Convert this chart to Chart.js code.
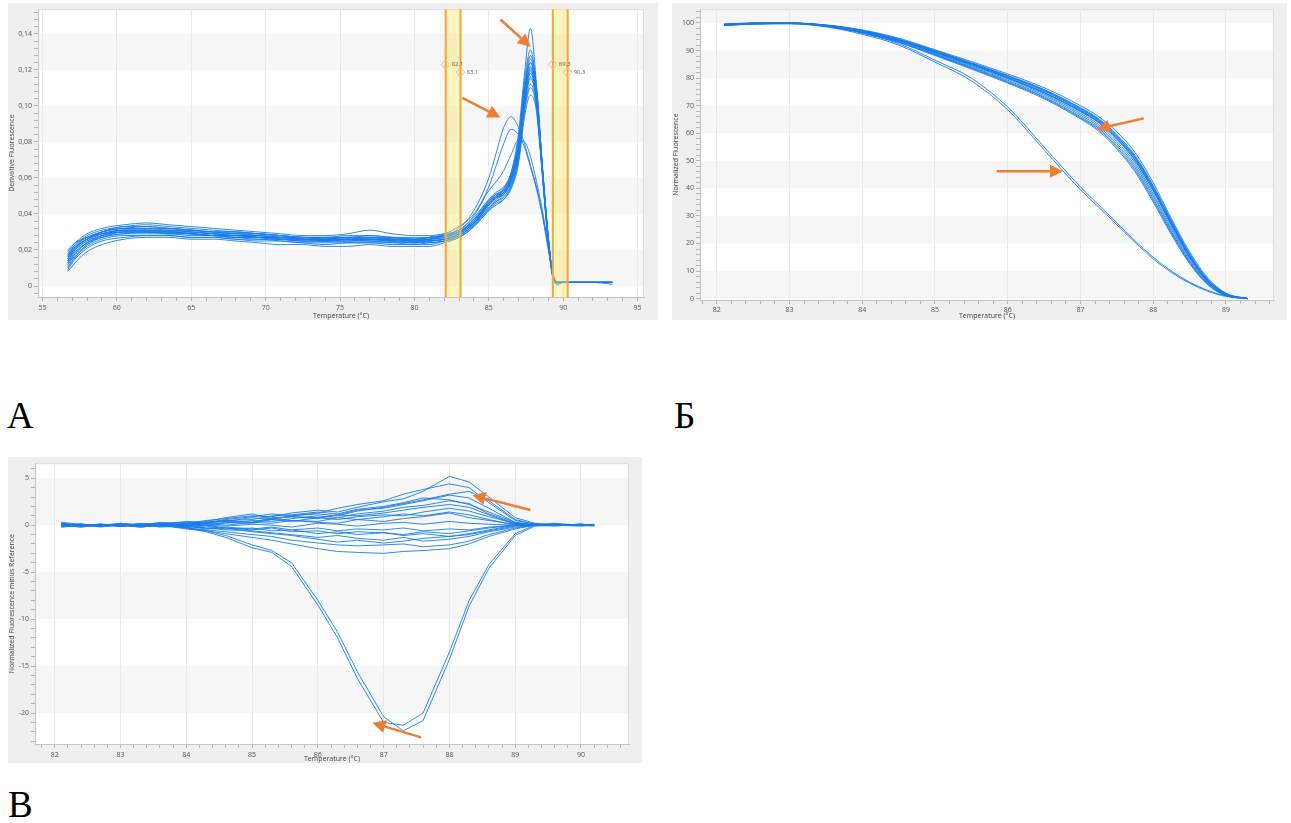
<!DOCTYPE html>
<html>
<head>
<meta charset="utf-8">
<script src="https://cdn.jsdelivr.net/npm/chart.js@4.4.1/dist/chart.umd.min.js"></script>
<style>
  html, body { margin: 0; padding: 0; background: #fff; }
  .panel { position: absolute; }
  .letter { position: absolute; font-family: "Liberation Serif", "DejaVu Serif", serif; font-size: 37px; line-height: 1; color: #000; }
</style>
</head>
<body>
<div class="panel" style="left:8px;top:3px"><canvas id="chartA" width="650" height="317"></canvas></div>
<div class="panel" style="left:672px;top:3px"><canvas id="chartB" width="615" height="317"></canvas></div>
<div class="panel" style="left:8px;top:457px"><canvas id="chartC" width="634" height="306"></canvas></div>
<div class="letter" style="left:7px;top:397px">А</div>
<div class="letter" style="left:674px;top:397px">Б</div>
<div class="letter" style="left:8px;top:786px">В</div>

<script>
// ---- panel A: derivative melt curves ----
const tempA = [56.7, 57.2, 58, 59, 60.5, 62, 63.5, 65, 66.5, 68, 69.5, 71, 72.5, 74, 75.5, 77, 78.5, 80, 81, 82,
  83, 84, 85, 85.5, 86, 86.5, 87, 87.4, 87.8, 88.2, 88.6, 89, 89.3, 89.6, 90, 91, 92, 93.3];
const derivA01 = [0.012, 0.018, 0.024, 0.028, 0.031, 0.031, 0.031, 0.030, 0.029, 0.029, 0.028, 0.027, 0.027, 0.026, 0.027, 0.027, 0.026, 0.026, 0.026, 0.027, 0.030, 0.037, 0.046, 0.050, 0.054, 0.063, 0.085, 0.118, 0.143, 0.112, 0.066, 0.026, 0.006, 0.001, 0.002, 0.002, 0.002, 0.002];
const derivA02 = [0.019, 0.024, 0.029, 0.032, 0.034, 0.035, 0.034, 0.033, 0.032, 0.031, 0.030, 0.029, 0.028, 0.028, 0.029, 0.031, 0.029, 0.028, 0.028, 0.029, 0.031, 0.038, 0.048, 0.051, 0.053, 0.061, 0.078, 0.109, 0.126, 0.108, 0.066, 0.027, 0.006, 0.002, 0.002, 0.002, 0.002, 0.001];
const derivA03 = [0.008, 0.013, 0.019, 0.023, 0.026, 0.027, 0.027, 0.026, 0.026, 0.025, 0.024, 0.023, 0.023, 0.022, 0.022, 0.023, 0.022, 0.022, 0.022, 0.024, 0.027, 0.033, 0.042, 0.045, 0.048, 0.054, 0.068, 0.094, 0.106, 0.097, 0.061, 0.024, 0.005, 0.001, 0.002, 0.002, 0.002, 0.002];
const derivA04 = [0.014, 0.020, 0.025, 0.028, 0.030, 0.030, 0.030, 0.029, 0.028, 0.028, 0.027, 0.026, 0.026, 0.025, 0.026, 0.026, 0.025, 0.025, 0.025, 0.026, 0.029, 0.035, 0.045, 0.049, 0.052, 0.059, 0.076, 0.104, 0.121, 0.106, 0.065, 0.026, 0.006, 0.002, 0.002, 0.002, 0.002, 0.002];
const derivA05 = [0.017, 0.023, 0.027, 0.030, 0.032, 0.032, 0.031, 0.031, 0.030, 0.029, 0.028, 0.027, 0.027, 0.026, 0.027, 0.026, 0.026, 0.025, 0.026, 0.027, 0.030, 0.036, 0.047, 0.050, 0.053, 0.061, 0.079, 0.108, 0.124, 0.108, 0.066, 0.027, 0.006, 0.002, 0.002, 0.002, 0.002, 0.002];
const derivA06 = [0.010, 0.016, 0.022, 0.026, 0.028, 0.028, 0.028, 0.027, 0.027, 0.026, 0.026, 0.025, 0.024, 0.024, 0.024, 0.024, 0.024, 0.023, 0.024, 0.025, 0.027, 0.033, 0.042, 0.046, 0.048, 0.055, 0.070, 0.098, 0.112, 0.100, 0.062, 0.024, 0.005, 0.002, 0.002, 0.002, 0.002, 0.002];
const derivA07 = [0.015, 0.021, 0.026, 0.029, 0.031, 0.031, 0.030, 0.030, 0.029, 0.028, 0.028, 0.027, 0.026, 0.026, 0.026, 0.026, 0.026, 0.025, 0.025, 0.026, 0.029, 0.035, 0.044, 0.048, 0.051, 0.058, 0.074, 0.103, 0.119, 0.105, 0.064, 0.026, 0.006, 0.002, 0.002, 0.002, 0.002, 0.002];
const derivA08 = [0.020, 0.024, 0.027, 0.029, 0.030, 0.030, 0.029, 0.029, 0.028, 0.028, 0.027, 0.026, 0.026, 0.025, 0.025, 0.026, 0.025, 0.024, 0.025, 0.026, 0.028, 0.034, 0.043, 0.047, 0.050, 0.056, 0.072, 0.100, 0.116, 0.103, 0.063, 0.025, 0.006, 0.002, 0.002, 0.002, 0.002, 0.002];
const derivA09 = [0.013, 0.018, 0.024, 0.027, 0.029, 0.029, 0.029, 0.028, 0.028, 0.027, 0.026, 0.026, 0.025, 0.025, 0.025, 0.025, 0.025, 0.024, 0.024, 0.025, 0.028, 0.034, 0.045, 0.049, 0.051, 0.058, 0.077, 0.106, 0.122, 0.107, 0.065, 0.026, 0.006, 0.002, 0.002, 0.002, 0.002, 0.002];
const derivA10 = [0.017, 0.022, 0.026, 0.030, 0.033, 0.033, 0.032, 0.031, 0.030, 0.030, 0.029, 0.028, 0.027, 0.027, 0.027, 0.027, 0.027, 0.026, 0.027, 0.028, 0.030, 0.036, 0.046, 0.050, 0.052, 0.060, 0.077, 0.105, 0.120, 0.105, 0.064, 0.025, 0.006, 0.002, 0.002, 0.002, 0.002, 0.002];
const derivA11 = [0.011, 0.016, 0.023, 0.027, 0.030, 0.030, 0.029, 0.029, 0.028, 0.027, 0.027, 0.026, 0.025, 0.025, 0.025, 0.025, 0.024, 0.024, 0.025, 0.026, 0.029, 0.035, 0.046, 0.050, 0.052, 0.059, 0.073, 0.101, 0.115, 0.102, 0.063, 0.025, 0.006, 0.002, 0.002, 0.002, 0.002, 0.002];
const derivA12 = [0.016, 0.022, 0.027, 0.030, 0.032, 0.032, 0.032, 0.031, 0.030, 0.029, 0.029, 0.028, 0.027, 0.027, 0.028, 0.028, 0.027, 0.027, 0.027, 0.028, 0.030, 0.037, 0.048, 0.052, 0.055, 0.063, 0.082, 0.114, 0.131, 0.111, 0.067, 0.027, 0.006, 0.002, 0.002, 0.002, 0.002, 0.002];
const derivA13 = [0.014, 0.020, 0.025, 0.029, 0.031, 0.031, 0.030, 0.030, 0.029, 0.028, 0.027, 0.027, 0.026, 0.026, 0.026, 0.026, 0.026, 0.025, 0.026, 0.028, 0.032, 0.042, 0.060, 0.074, 0.088, 0.094, 0.088, 0.079, 0.067, 0.055, 0.040, 0.021, 0.007, 0.002, 0.002, 0.002, 0.002, 0.002];
const derivA14 = [0.016, 0.021, 0.026, 0.029, 0.031, 0.031, 0.031, 0.030, 0.029, 0.028, 0.028, 0.027, 0.026, 0.026, 0.026, 0.027, 0.026, 0.026, 0.027, 0.029, 0.033, 0.040, 0.055, 0.067, 0.079, 0.087, 0.084, 0.077, 0.066, 0.054, 0.039, 0.020, 0.007, 0.002, 0.002, 0.002, 0.002, 0.002];
const derivA15 = [0.013, 0.019, 0.024, 0.028, 0.030, 0.030, 0.030, 0.029, 0.028, 0.028, 0.027, 0.026, 0.026, 0.025, 0.026, 0.026, 0.025, 0.025, 0.026, 0.028, 0.031, 0.039, 0.053, 0.058, 0.064, 0.073, 0.081, 0.080, 0.072, 0.058, 0.042, 0.022, 0.007, 0.002, 0.002, 0.002, 0.002, 0.002];
const derivA16 = [0.015, 0.021, 0.026, 0.030, 0.032, 0.033, 0.032, 0.031, 0.030, 0.030, 0.029, 0.028, 0.027, 0.026, 0.027, 0.027, 0.026, 0.026, 0.026, 0.027, 0.030, 0.036, 0.047, 0.051, 0.054, 0.062, 0.080, 0.112, 0.128, 0.110, 0.066, 0.026, 0.006, 0.002, 0.002, 0.002, 0.002, 0.002];
const derivA17 = [0.009, 0.015, 0.021, 0.025, 0.027, 0.028, 0.028, 0.027, 0.027, 0.026, 0.025, 0.025, 0.024, 0.023, 0.024, 0.024, 0.023, 0.023, 0.023, 0.025, 0.028, 0.034, 0.043, 0.047, 0.049, 0.056, 0.071, 0.097, 0.110, 0.099, 0.062, 0.024, 0.005, 0.002, 0.002, 0.002, 0.002, 0.002];
const derivA18 = [0.018, 0.023, 0.028, 0.031, 0.033, 0.034, 0.033, 0.032, 0.031, 0.030, 0.029, 0.028, 0.027, 0.027, 0.027, 0.028, 0.027, 0.026, 0.027, 0.028, 0.030, 0.036, 0.046, 0.049, 0.051, 0.058, 0.074, 0.102, 0.118, 0.104, 0.064, 0.025, 0.006, 0.002, 0.002, 0.002, 0.002, 0.002];
const derivA19 = [0.012, 0.017, 0.023, 0.027, 0.029, 0.030, 0.030, 0.029, 0.028, 0.027, 0.027, 0.026, 0.025, 0.025, 0.026, 0.025, 0.025, 0.024, 0.025, 0.026, 0.029, 0.035, 0.045, 0.049, 0.052, 0.060, 0.079, 0.109, 0.124, 0.108, 0.065, 0.026, 0.006, 0.002, 0.002, 0.002, 0.002, 0.002];
const curvesA = [derivA01, derivA02, derivA03, derivA04, derivA05, derivA06, derivA07, derivA08, derivA09, derivA10,
  derivA11, derivA12, derivA13, derivA14, derivA15, derivA16, derivA17, derivA18, derivA19];
const meltRegionsA = [[82.1, 83.1], [89.3, 90.3]];

// ---- panel B: normalized melt curves ----
const tempB = [82.1, 82.5, 83, 83.5, 84, 84.5, 85, 85.5, 86, 86.5, 87, 87.25, 87.5, 87.75, 88, 88.25, 88.5, 88.75, 89, 89.3];
const normB01 = [99.6, 100, 100, 99.3, 97.5, 94.5, 90.3, 86, 81.5, 76.5, 70, 66, 60.5, 53, 42, 29, 17, 7.5, 2, 0];
const normB02 = [99.2, 99.8, 99.9, 99, 97.1, 93.9, 89.6, 85.2, 80.5, 75.3, 68.5, 64.5, 58.5, 51, 40, 27.5, 15.5, 6.5, 1.6, 0];
const normB03 = [99.5, 99.9, 100, 99.1, 96.9, 93.6, 89.1, 84.5, 79.7, 74.2, 67.2, 63.1, 57, 49.2, 38, 25.8, 14.5, 6, 1.4, 0];
const normB04 = [99.1, 99.7, 99.8, 98.9, 96.6, 93.2, 88.6, 83.8, 78.8, 73.2, 66, 61.8, 55.5, 47.5, 36.3, 24.3, 13.4, 5.4, 1.2, 0];
const normB05 = [99.4, 99.9, 99.9, 99.2, 97.3, 94.2, 90, 85.6, 81, 75.9, 69.3, 65.3, 59.5, 52, 41, 28.3, 16.3, 7, 1.8, 0];
const normB06 = [99, 99.6, 99.8, 98.8, 96.4, 92.9, 88.2, 83.3, 78.2, 72.5, 65.2, 60.8, 54.3, 46, 35, 23.2, 12.7, 5, 1.1, 0];
const normB07 = [99.3, 99.8, 99.9, 99, 97, 93.7, 89.3, 84.8, 80, 74.6, 67.8, 63.8, 57.8, 50, 39, 26.6, 15, 6.2, 1.5, 0];
const normB08 = [99.6, 100, 100, 99.2, 97.2, 94.1, 89.9, 85.4, 80.8, 75.7, 69, 65, 59, 51.5, 40.6, 28, 16, 6.8, 1.7, 0];
const normB09 = [99.2, 99.7, 99.9, 98.9, 96.7, 93.3, 88.8, 84.1, 79.2, 73.7, 66.6, 62.4, 56.2, 48.3, 37.2, 25, 13.9, 5.7, 1.3, 0];
const normB10 = [99.4, 99.8, 100, 99.1, 97, 93.9, 89.6, 85.1, 80.2, 74.9, 68.2, 64.2, 58.2, 50.5, 39.5, 27, 15.3, 6.4, 1.5, 0];
const normB11 = [99.4, 99.8, 99.9, 98.9, 96.3, 92.5, 86.5, 80, 69.5, 55, 40.5, 34, 27.5, 21, 15, 10, 6, 3, 1, 0];
const normB12 = [99.2, 99.6, 99.7, 98.6, 95.9, 92, 85.8, 79, 68.5, 54, 39.5, 33.2, 26.8, 20.4, 14.4, 9.5, 5.6, 2.7, 0.8, 0];
const normB13 = [99.3, 99.9, 100, 99.2, 97.2, 94, 89.7, 85.3, 80.7, 75.5, 68.8, 64.8, 58.8, 51.2, 40.2, 27.6, 15.7, 6.7, 1.6, 0];
const normB14 = [99.1, 99.7, 99.8, 98.8, 96.5, 93, 88.4, 83.6, 78.5, 72.9, 65.6, 61.3, 54.9, 46.7, 35.7, 23.8, 13, 5.2, 1.1, 0];
const normB15 = [99.5, 99.9, 100, 99.1, 97, 93.8, 89.4, 84.9, 80.1, 74.7, 68, 64, 57.9, 50.2, 39.2, 26.9, 15.2, 6.3, 1.5, 0];
const curvesB = [normB01, normB02, normB03, normB04, normB05, normB06, normB07, normB08, normB09, normB10,
  normB11, normB12, normB13, normB14, normB15];

// ---- panel C: difference plot ----
const tempC = [82.1, 82.4, 82.7, 83, 83.3, 83.6, 84, 84.3, 84.6, 85, 85.3, 85.6, 86, 86.3, 86.6, 87, 87.3, 87.6,
  88, 88.3, 88.6, 89, 89.3, 89.6, 90, 90.2];
const diffC01 = [0.3, 0.1, -0.1, 0.2, 0.0, 0.3, 0.2, 0.5, 0.7, 1.0, 0.9, 1.3, 1.6, 1.4, 1.9, 2.5, 2.8, 3.6, 5.2, 4.6, 3.0, 0.8, 0.2, 0.0, 0.1, 0.0];
const diffC02 = [0.0, -0.2, 0.1, 0.0, 0.2, 0.1, 0.4, 0.3, 0.6, 0.9, 1.2, 1.0, 1.3, 1.8, 2.2, 2.6, 3.3, 3.8, 4.4, 4.0, 2.4, 0.5, 0.1, 0.2, 0.0, -0.1];
const diffC03 = [-0.2, 0.0, 0.0, -0.1, 0.1, 0.2, 0.0, 0.3, 0.4, 0.3, 0.8, 0.9, 0.7, 1.1, 1.6, 1.8, 2.2, 2.6, 3.2, 2.9, 1.8, 0.3, 0.0, 0.1, 0.0, 0.0];
const diffC04 = [0.1, 0.0, -0.2, 0.1, -0.1, 0.1, 0.3, 0.1, 0.2, 0.5, 0.4, 0.7, 1.0, 0.8, 1.2, 1.5, 1.9, 2.1, 2.6, 2.3, 1.2, 0.2, 0.1, 0.0, 0.1, 0.0];
const diffC05 = [-0.1, 0.1, 0.0, 0.0, 0.0, -0.1, 0.2, 0.0, 0.3, 0.2, 0.6, 0.4, 0.8, 0.6, 0.9, 1.1, 1.0, 1.4, 1.8, 1.5, 0.9, 0.2, 0.0, 0.0, 0.0, 0.0];
const diffC06 = [0.2, -0.1, 0.0, 0.1, -0.2, 0.0, -0.1, 0.2, 0.0, 0.3, 0.2, 0.5, 0.3, 0.2, 0.6, 0.4, 0.7, 0.9, 1.3, 0.8, 0.5, 0.1, 0.0, 0.1, 0.0, 0.0];
const diffC07 = [0.0, 0.0, 0.1, -0.1, 0.0, 0.2, -0.2, 0.0, -0.1, 0.1, 0.0, -0.2, 0.2, 0.1, -0.1, 0.2, 0.3, 0.1, 0.4, 0.2, 0.1, 0.0, 0.0, -0.1, 0.1, 0.0];
const diffC08 = [-0.1, 0.1, -0.1, 0.0, 0.1, -0.1, 0.0, -0.3, -0.2, -0.4, -0.2, -0.5, -0.3, -0.6, -0.4, -0.5, -0.3, -0.6, -0.4, -0.5, -0.2, 0.0, 0.1, 0.0, 0.0, 0.0];
const diffC09 = [0.0, -0.2, 0.0, 0.1, -0.1, 0.0, -0.2, -0.1, -0.4, -0.3, -0.6, -0.5, -0.9, -0.7, -1.0, -0.8, -1.1, -0.9, -1.2, -1.0, -0.6, -0.1, 0.0, 0.1, 0.0, 0.0];
const diffC10 = [0.1, 0.0, -0.1, 0.0, 0.1, -0.2, -0.1, -0.3, -0.5, -0.6, -0.8, -1.0, -1.3, -1.1, -1.4, -1.6, -1.3, -1.7, -1.5, -1.2, -0.7, -0.2, 0.0, 0.0, 0.0, 0.0];
const diffC11 = [-0.2, 0.0, 0.1, -0.1, 0.0, 0.1, -0.3, -0.5, -0.7, -1.0, -1.2, -1.6, -1.9, -2.1, -2.2, -2.1, -2.0, -2.3, -2.1, -1.7, -1.0, -0.3, 0.0, 0.0, 0.0, 0.0];
const diffC12 = [0.0, 0.1, -0.1, 0.0, -0.2, 0.0, -0.4, -0.6, -0.9, -1.3, -1.6, -2.0, -2.5, -2.8, -2.9, -3.0, -2.8, -2.7, -2.5, -2.0, -1.2, -0.4, 0.0, 0.1, 0.0, 0.0];
const diffC13 = [0.2, 0.0, -0.1, 0.0, -0.2, 0.0, -0.3, -0.7, -1.3, -2.4, -2.9, -4.4, -8.5, -12, -16.3, -21, -21.3, -20, -13.5, -8, -4.2, -0.9, 0.0, 0.1, 0.0, 0.0];
const diffC14 = [0.0, 0.1, 0.0, -0.1, 0.0, -0.1, -0.2, -0.6, -1.1, -2.1, -2.7, -4.0, -8.0, -11.4, -15.6, -20.4, -21.9, -20.8, -14.3, -8.6, -4.6, -1.1, -0.1, 0.0, 0.1, 0.0];
const diffC15 = [0.1, -0.1, 0.0, 0.2, 0.0, 0.1, 0.1, 0.3, 0.4, 0.8, 0.6, 1.0, 1.2, 1.0, 1.5, 1.9, 2.3, 2.7, 3.3, 3.6, 2.6, 0.6, 0.1, 0.0, 0.0, 0.1];
const diffC16 = [0.0, 0.1, 0.0, -0.1, 0.1, 0.0, 0.1, 0.4, 0.8, 1.2, 0.7, 0.9, 0.8, 1.1, 1.0, 1.3, 1.6, 1.9, 2.2, 1.9, 1.1, 0.1, 0.0, 0.1, 0.0, 0.0];
const diffC17 = [-0.1, 0.0, 0.1, 0.0, -0.1, 0.1, -0.1, -0.4, -0.3, -0.7, -0.9, -1.1, -1.5, -1.8, -1.6, -1.9, -1.7, -1.4, -1.2, -0.9, -0.5, 0.0, 0.1, 0.0, 0.0, 0.0];
const diffC18 = [0.1, 0.0, 0.0, 0.1, 0.0, -0.1, 0.0, 0.2, 0.5, 0.3, 0.7, 0.5, 0.4, 0.8, 0.6, 0.9, 1.2, 1.0, 1.4, 1.1, 0.6, 0.0, 0.1, 0.0, 0.1, 0.0];
const diffC19 = [0.0, 0.1, -0.1, 0.0, 0.0, 0.1, -0.1, 0.0, -0.3, -0.5, -0.3, -0.7, -0.6, -0.9, -0.7, -0.8, -1.0, -0.7, -0.9, -0.6, -0.3, 0.0, 0.0, 0.0, -0.1, 0.0];
const diffC20 = [0.2, 0.0, 0.1, -0.1, 0.1, 0.0, 0.2, 0.3, 0.5, 0.6, 1.0, 1.1, 1.4, 1.2, 1.7, 2.0, 2.4, 2.9, 2.7, 2.2, 1.4, 0.3, 0.0, 0.1, 0.0, 0.0];
const curvesC = [diffC01, diffC02, diffC03, diffC04, diffC05, diffC06, diffC07, diffC08, diffC09, diffC10,
  diffC11, diffC12, diffC13, diffC14, diffC15, diffC16, diffC17, diffC18, diffC19, diffC20];

// orange call-out arrows, [fromX, fromY, toX, toY] in data units
const arrowsA = [[85.78, 0.148, 87.82, 0.1327], [83.22, 0.1045, 85.78, 0.0935]];
const arrowsB = [[87.87, 65.4, 87.22, 61.5], [85.85, 46.2, 86.76, 46.2]];
const arrowsC = [[89.23, 1.62, 88.35, 3.2], [87.57, -22.6, 86.83, -21.05]];

const LINE_COLOR = "rgba(24, 124, 234, 0.9)";
const isMul = (v, m) => Math.abs(v / m - Math.round(v / m)) < 1e-6;

Chart.defaults.font.family = "'Open Sans', 'DejaVu Sans', sans-serif";
Chart.defaults.font.size = 7;

// gray frame, white plot area, alternating bands
const frameBands = {
  id: "frameBands",
  beforeDraw(chart, args, opts) {
    const { ctx, chartArea: a } = chart;
    const y = chart.scales.y;
    ctx.save();
    ctx.fillStyle = "#efefef";
    ctx.fillRect(0, 0, chart.width, chart.height);
    ctx.fillStyle = "#ffffff";
    ctx.fillRect(a.left, a.top, a.right - a.left, a.bottom - a.top);
    ctx.fillStyle = "#f6f6f6";
    opts.bands.forEach(([lo, hi]) => {
      const y1 = Math.max(a.top, y.getPixelForValue(hi));
      const y2 = Math.min(a.bottom, y.getPixelForValue(lo));
      if (y2 > y1) ctx.fillRect(a.left, y1, a.right - a.left, y2 - y1);
    });
    ctx.strokeStyle = "#dcdcdc";
    ctx.lineWidth = 1;
    ctx.beginPath();
    ctx.moveTo(a.right - 0.5, a.top);
    ctx.lineTo(a.right - 0.5, a.bottom);
    ctx.moveTo(a.left, a.top + 0.5);
    ctx.lineTo(a.right, a.top + 0.5);
    ctx.stroke();
    ctx.restore();
  },
};

// yellow melt regions with edge markers (panel A)
const meltRegions = {
  id: "meltRegions",
  afterDatasetsDraw(chart, args, opts) {
    if (!opts.regions) return;
    const { ctx, chartArea: a } = chart;
    const { x, y } = chart.scales;
    ctx.save();
    opts.regions.forEach(([lo, hi]) => {
      const x1 = x.getPixelForValue(lo);
      const x2 = x.getPixelForValue(hi);
      ctx.fillStyle = "rgba(255, 228, 90, 0.38)";
      ctx.fillRect(x1, a.top, x2 - x1, a.bottom - a.top);
      ctx.strokeStyle = "#f2a634";
      ctx.lineWidth = 2;
      ctx.beginPath();
      ctx.moveTo(x1, a.top);
      ctx.lineTo(x1, a.bottom);
      ctx.moveTo(x2, a.top);
      ctx.lineTo(x2, a.bottom);
      ctx.stroke();
      [[lo, opts.markerY[0]], [hi, opts.markerY[1]]].forEach(([t, v]) => {
        const px = x.getPixelForValue(t);
        const py = y.getPixelForValue(v);
        ctx.strokeStyle = "#f5b873";
        ctx.lineWidth = 1;
        ctx.beginPath();
        ctx.moveTo(px, py - 4.5);
        ctx.lineTo(px + 4.5, py);
        ctx.lineTo(px, py + 4.5);
        ctx.lineTo(px - 4.5, py);
        ctx.closePath();
        ctx.stroke();
        ctx.fillStyle = "#666";
        ctx.font = "6px 'Open Sans', sans-serif";
        ctx.textBaseline = "middle";
        ctx.fillText(t.toFixed(1).replace(".", ","), px + 6, py);
      });
    });
    ctx.restore();
  },
};

const arrows = {
  id: "arrows",
  afterDatasetsDraw(chart, args, opts) {
    const { ctx } = chart;
    const { x, y } = chart.scales;
    ctx.save();
    ctx.strokeStyle = "#ed7d31";
    ctx.fillStyle = "#ed7d31";
    ctx.lineWidth = 2.5;
    opts.list.forEach(([fx, fy, tx, ty]) => {
      const x1 = x.getPixelForValue(fx), y1 = y.getPixelForValue(fy);
      const x2 = x.getPixelForValue(tx), y2 = y.getPixelForValue(ty);
      const ang = Math.atan2(y2 - y1, x2 - x1);
      const head = 13, half = 6.5;
      const bx = x2 - head * Math.cos(ang), by = y2 - head * Math.sin(ang);
      ctx.beginPath();
      ctx.moveTo(x1, y1);
      ctx.lineTo(bx, by);
      ctx.stroke();
      ctx.beginPath();
      ctx.moveTo(x2, y2);
      ctx.lineTo(bx + half * Math.sin(ang), by - half * Math.cos(ang));
      ctx.lineTo(bx - half * Math.sin(ang), by + half * Math.cos(ang));
      ctx.closePath();
      ctx.fill();
    });
    ctx.restore();
  },
};

function makeDatasets(temps, curves, tension) {
  return curves.map((vals) => ({
    data: temps.map((t, i) => ({ x: t, y: vals[i] })),
    borderColor: LINE_COLOR,
    borderWidth: 1,
    pointRadius: 0,
    fill: false,
    tension: tension,
    cubicInterpolationMode: tension ? "monotone" : "default",
  }));
}

function makeOptions(c) {
  return {
    responsive: false,
    animation: false,
    events: [],
    layout: { padding: { top: c.padTop, right: c.padRight, left: 0, bottom: 0 } },
    plugins: {
      legend: { display: false },
      tooltip: { enabled: false },
      frameBands: { bands: c.bands },
      meltRegions: { regions: c.regions, markerY: c.markerY },
      arrows: { list: c.arrows },
    },
    scales: {
      x: {
        type: "linear",
        min: c.xMin,
        max: c.xMax,
        afterFit: (s) => { s.height = c.xHeight; },
        border: { color: "#c4c4c4" },
        grid: {
          color: (ctx) => (ctx.tick && isMul(ctx.tick.value, c.xMajor) ? "#e9e9e9" : "rgba(0,0,0,0)"),
          tickColor: "#b4b4b4",
          tickLength: 4,
        },
        ticks: {
          stepSize: c.xStep,
          includeBounds: false,
          autoSkip: false,
          maxRotation: 0,
          padding: c.xLabelPad,
          color: "#555",
          font: { size: 7 },
          callback: (v) => (isMul(v, c.xMajor) ? String(Math.round(v)) : ""),
        },
        title: { display: true, text: "Temperature (°C)", color: "#444", font: { size: 7 }, padding: 0 },
      },
      y: {
        type: "linear",
        min: c.yMin,
        max: c.yMax,
        afterFit: (s) => { s.width = c.yWidth; },
        border: { color: "#c4c4c4" },
        grid: { color: "rgba(0,0,0,0)", tickColor: "#b4b4b4", tickLength: 4 },
        ticks: {
          stepSize: c.yStep,
          includeBounds: false,
          autoSkip: false,
          padding: 2,
          color: "#555",
          font: { size: 7 },
          callback: (v) => (isMul(v, c.yMajor) ? c.yFmt(v) : ""),
        },
        title: { display: true, text: c.yTitle, color: "#444", font: { size: 7 }, padding: 0 },
      },
    },
  };
}

new Chart(document.getElementById("chartA"), {
  type: "line",
  data: { datasets: makeDatasets(tempA, curvesA, 0.4) },
  options: makeOptions({
    padTop: 3, padRight: 14, xHeight: 23, yWidth: 30, xLabelPad: 3,
    xMin: 54.7, xMax: 95.43, xStep: 1, xMajor: 5,
    yMin: -0.0061, yMax: 0.1537, yStep: 0.004, yMajor: 0.02,
    yFmt: (v) => (Math.abs(v) < 1e-9 ? "0" : v.toFixed(2).replace(".", ",")),
    yTitle: "Derivative Fluorescence",
    bands: [[0, 0.02], [0.04, 0.06], [0.08, 0.1], [0.12, 0.14]],
    regions: meltRegionsA, markerY: [0.123, 0.1187],
    arrows: arrowsA,
  }),
  plugins: [frameBands, meltRegions, arrows],
});

new Chart(document.getElementById("chartB"), {
  type: "line",
  data: { datasets: makeDatasets(tempB, curvesB, 0.4) },
  options: makeOptions({
    padTop: 2, padRight: 13, xHeight: 20, yWidth: 28, xLabelPad: 2,
    xMin: 81.77, xMax: 89.66, xStep: 0.2, xMajor: 1,
    yMin: -0.5, yMax: 105, yStep: 2, yMajor: 10,
    yFmt: (v) => String(Math.round(v)),
    yTitle: "Normalized Fluorescence",
    bands: [[0, 10], [20, 30], [40, 50], [60, 70], [80, 90], [100, 110]],
    arrows: arrowsB,
  }),
  plugins: [frameBands, arrows],
});

new Chart(document.getElementById("chartC"), {
  type: "line",
  data: { datasets: makeDatasets(tempC, curvesC, 0) },
  options: makeOptions({
    padTop: 3, padRight: 13, xHeight: 19, yWidth: 27, xLabelPad: 3,
    xMin: 81.7, xMax: 90.73, xStep: 0.2, xMajor: 1,
    yMin: -23.3, yMax: 6.6, yStep: 1, yMajor: 5,
    yFmt: (v) => String(Math.round(v)),
    yTitle: "Normalized Fluorescence minus Reference",
    bands: [[0, 5], [-10, -5], [-20, -15]],
    arrows: arrowsC,
  }),
  plugins: [frameBands, arrows],
});
</script>
</body>
</html>
